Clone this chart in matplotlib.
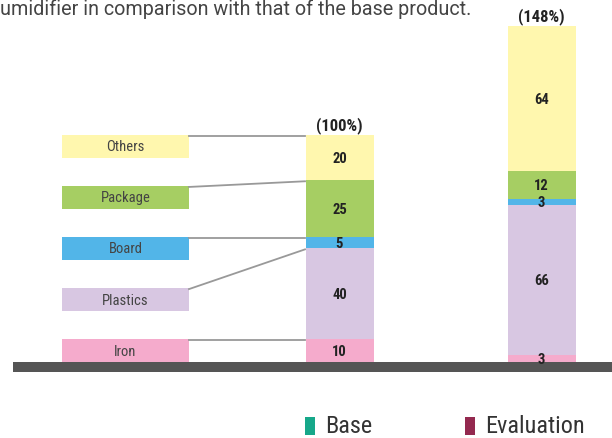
import matplotlib.pyplot as plt
from matplotlib.patches import Rectangle
from matplotlib import font_manager
import numpy as np

# materials, bottom to top
materials = ["Iron", "Plastics", "Board", "Package", "Others"]
colors = ["#f5abcc", "#d8c7e2", "#52b5e8", "#a6ce63", "#fff7ae"]
base_vals = [10, 40, 5, 25, 20]
eval_vals = [3, 66, 3, 12, 64]
totals = ["(100%)", "(148%)"]
legend_names = ["Base", "Evaluation"]
legend_colors = ["#16a88a", "#94294f"]
caption = "umidifier in comparison with that of the base product."

installed = {f.name for f in font_manager.fontManager.ttflist}
NARROW = [f for f in ["Roboto Condensed", "Liberation Sans Narrow", "DejaVu Sans Condensed",
                      "Roboto"] if f in installed] + ["DejaVu Sans"]

fig = plt.figure(figsize=(6.12, 4.39), dpi=100)
ax = fig.add_axes([0, 0, 1, 1])
ax.set_xlim(0, 612)
ax.set_ylim(-33.5, 159.9)
ax.axis("off")

bar_x = [339.5, 541.5]
bar_w = 68
for x, vals, tot in zip(bar_x, [base_vals, eval_vals], totals):
    bottoms = np.concatenate([[0], np.cumsum(vals)[:-1]])
    ax.bar([x] * len(vals), vals, bottom=bottoms, width=bar_w, color=colors, linewidth=0)
    for b, v in zip(bottoms, vals):
        ax.text(x, b + v / 2, str(v), ha="center", va="center", fontsize=10.5,
                fontweight="bold", color="#222222", family=NARROW)
    ax.text(x, sum(vals) + 0.8, tot, ha="center", va="bottom", fontsize=12,
            fontweight="bold", color="#222222", family=NARROW)

# label boxes at the left
box_tops = [10, 32.5, 55, 77.5, 100]
box_h = 10
ax.bar([125.5] * 5, [box_h] * 5, bottom=[t - box_h for t in box_tops], width=127,
       color=colors, linewidth=0)
seg_tops = np.cumsum(base_vals)
for name, t, s in zip(materials, box_tops, seg_tops):
    ax.text(125.5, t - box_h / 2, name, ha="center", va="center", fontsize=10.5,
            color="#444444", family=NARROW)
    ax.plot([189, 305], [t - 0.4, s - 0.4], color="#999999", lw=1.3)

# ground
ax.add_patch(Rectangle((13, -4.4), 599, 4.4, color="#555555", lw=0))

fig.text(0.0, 1 - 9 / 439, caption, ha="left", va="center", fontsize=14.2,
         color="#444444", family="Roboto")

# legend
for px, name, c in zip([305, 465], legend_names, legend_colors):
    fig.add_artist(Rectangle((px / 612, 1 - 436 / 439), 10 / 612, 18 / 439,
                             transform=fig.transFigure, color=c, lw=0))
    fig.text((px + 20) / 612, 1 - 427 / 439, name, ha="left", va="center",
             fontsize=17.5, color="#333333", family=NARROW)

fig.savefig("out.png", dpi=100)
